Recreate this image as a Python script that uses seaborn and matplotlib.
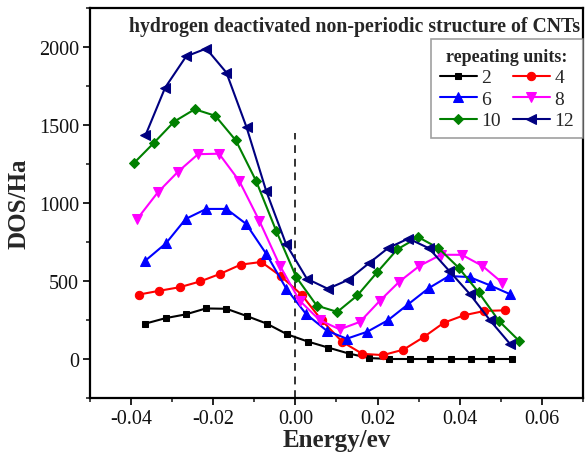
import numpy as np
import pandas as pd
import matplotlib
matplotlib.use("Agg")
import matplotlib.pyplot as plt
from matplotlib.ticker import MultipleLocator
import seaborn as sns

# Density of states for hydrogen-terminated CNT segments of different length
units = ["2", "4", "6", "8", "10", "12"]

e_2 = [-0.0365, -0.0316, -0.0267, -0.0218, -0.0168, -0.0119, -0.0070, -0.0020, 0.0030, 0.0080,
       0.0130, 0.0180, 0.0229, 0.0278, 0.0328, 0.0378, 0.0427, 0.0477, 0.0527]
dos_2 = [227, 262, 286, 324, 322, 276, 227, 158, 112, 73, 35, 6, 0, 0, 0, 0, 0, 0, 0]

e_4 = [-0.0381, -0.0332, -0.0282, -0.0232, -0.0183, -0.0133, -0.0083, -0.0035, 0.0015, 0.0064,
       0.0114, 0.0163, 0.0213, 0.0263, 0.0312, 0.0361, 0.0410, 0.0460, 0.0510]
dos_4 = [413, 437, 460, 497, 546, 605, 622, 530, 412, 248, 110, 33, 25, 60, 140, 232, 280, 308, 312]

e_6 = [-0.0365, -0.0315, -0.0267, -0.0217, -0.0168, -0.0120, -0.0071, -0.0022, 0.0026, 0.0076,
       0.0125, 0.0175, 0.0225, 0.0275, 0.0325, 0.0374, 0.0424, 0.0473, 0.0522]
dos_6 = [631, 742, 898, 962, 962, 866, 674, 450, 288, 182, 130, 175, 248, 352, 455, 532, 525, 473, 416]

e_8 = [-0.0385, -0.0335, -0.0286, -0.0237, -0.0186, -0.0137, -0.0088, -0.0038, 0.0010, 0.0059,
       0.0108, 0.0157, 0.0205, 0.0253, 0.0302, 0.0354, 0.0405, 0.0455, 0.0504]
dos_8 = [898, 1068, 1200, 1313, 1316, 1143, 887, 599, 375, 249, 190, 238, 372, 496, 597, 668, 668, 597, 488]

e_10 = [-0.0393, -0.0345, -0.0295, -0.0245, -0.0195, -0.0145, -0.0096, -0.0047, 0.0002, 0.0052,
        0.0102, 0.0151, 0.0199, 0.0248, 0.0299, 0.0348, 0.0397, 0.0446, 0.0496, 0.0545]
dos_10 = [1256, 1384, 1522, 1601, 1559, 1401, 1143, 823, 525, 342, 302, 408, 556, 703, 781, 711,
          586, 427, 242, 115]

e_12 = [-0.0365, -0.0317, -0.0266, -0.0217, -0.0168, -0.0119, -0.0071, -0.0023, 0.0028, 0.0079,
        0.0129, 0.0179, 0.0226, 0.0275, 0.0325, 0.0375, 0.0424, 0.0474, 0.0522]
dos_12 = [1434, 1740, 1940, 1990, 1836, 1486, 1076, 738, 514, 450, 508, 614, 712, 772, 710, 563,
          418, 247, 98]

energies = [e_2, e_4, e_6, e_8, e_10, e_12]
dos_values = [dos_2, dos_4, dos_6, dos_8, dos_10, dos_12]

colors = ["#000000", "#FF0000", "#0000FF", "#FF00FF", "#008000", "#000080"]
marker_shapes = ["s", "o", "^", "v", "D", "<"]
marker_sizes = [5, 6, 6.5, 6.5, 5.5, 6.5]

frames = []
for u, e, d in zip(units, energies, dos_values):
    frames.append(pd.DataFrame({"Energy": e, "DOS": d, "units": u}))
df = pd.concat(frames, ignore_index=True)

sns.set_theme(style="ticks")
plt.rcParams["font.family"] = ["Liberation Serif", "DejaVu Serif"]
plt.rcParams["axes.unicode_minus"] = False
plt.rcParams["mathtext.default"] = "regular"

fig = plt.figure(figsize=(5.86, 4.56), dpi=100)
ax = fig.add_axes([90 / 586, 1 - 399 / 456, (583 - 90) / 586, 390 / 456])

ax.vlines(0, -250, 1450, colors="#333333", linestyles=(0, (4, 3)), linewidth=1.4, zorder=1)

for u, c, m, ms in zip(units, colors, marker_shapes, marker_sizes):
    sns.lineplot(data=df[df["units"] == u], x="Energy", y="DOS", color=c, marker=m,
                 markersize=ms, markeredgecolor=c, linewidth=1.5, sort=False,
                 estimator=None, label=u, ax=ax, zorder=3)

ax.set_xlim(-0.05, 0.07)
ax.set_ylim(-250, 2250)
ax.xaxis.set_major_locator(MultipleLocator(0.02))
ax.xaxis.set_minor_locator(MultipleLocator(0.01))
ax.yaxis.set_major_locator(MultipleLocator(500))
ax.yaxis.set_minor_locator(MultipleLocator(250))
ax.set_xticks([-0.04, -0.02, 0.0, 0.02, 0.04, 0.06])
ax.set_xticklabels(["-0.04", "-0.02", "0.00", "0.02", "0.04", "0.06"])
ax.tick_params(axis="both", which="major", direction="out", length=5, width=1.3,
               labelsize=14.5, colors="#111111", pad=3)
ax.tick_params(axis="both", which="minor", direction="out", length=3, width=1.2)

for s in ax.spines.values():
    s.set_linewidth(1.6)
    s.set_color("black")

ax.set_xlabel("Energy/ev", fontsize=18, fontweight="bold", labelpad=0)
ax.set_ylabel("DOS/Ha", fontsize=18, fontweight="bold", labelpad=6)

ax.text(0.995, 0.955, "hydrogen deactivated non-periodic structure of CNTs",
        transform=ax.transAxes, ha="right", va="center", fontsize=14.2, fontweight="bold")

handles, labels = ax.get_legend_handles_labels()
order = [0, 2, 4, 1, 3, 5]
leg = ax.legend([handles[i] for i in order], [labels[i] for i in order],
                title="repeating units:", ncol=2, loc="upper right",
                bbox_to_anchor=(1.0, 0.92), borderaxespad=0, fancybox=False,
                frameon=True, fontsize=14, title_fontproperties={"weight": "bold", "size": 13},
                handlelength=1.9, handletextpad=0.25, columnspacing=0.6,
                labelspacing=0.2, borderpad=0.45)
leg.get_frame().set_edgecolor("#888888")
leg.get_frame().set_linewidth(1.2)

fig.savefig("out.png", dpi=100)
